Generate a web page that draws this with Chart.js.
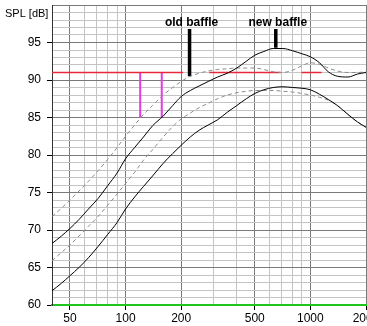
<!DOCTYPE html>
<html lang="en">
<head>
  <meta charset="UTF-8">
  <title>SPL - old vs new baffle</title>
  <script src="https://cdn.jsdelivr.net/npm/chart.js"></script>
  <style>
    body {
      margin: 0;
      background-color: #ffffff;
    }
    .chartContainer {
      width: 367px;
      height: 326px;
    }
  </style>
</head>
<body>
  <div class="chartContainer">
    <canvas id="splChart"></canvas>
  </div>

  <script>
    // Frequencies (Hz) the responses are sampled at
    const freqs = [40, 45, 50, 56, 63, 71, 80, 90, 100, 112, 125, 140, 160, 180, 200, 224, 250, 280, 315, 355,
                   400, 450, 500, 560, 630, 710, 800, 900, 1000, 1120, 1250, 1400, 1600, 1800, 2000];

    // SPL (dB) curves
    const upperSolid = [68.2, 69.2, 70.2, 71.4, 72.8, 74.2, 75.9, 77.6, 79.5, 81.0, 82.4, 83.9, 85.2, 86.6, 87.8, 88.6, 89.2, 89.8, 90.4, 90.9,
                        91.6, 92.5, 93.3, 93.8, 94.2, 94.2, 93.9, 93.5, 93.1, 92.3, 91.1, 90.5, 90.4, 90.8, 91.0];
    const upperDashed = [71.8, 72.9, 74.0, 75.2, 76.5, 77.9, 79.4, 81.0, 82.5, 84.0, 85.4, 86.6, 88.0, 89.0, 89.8, 90.5, 90.9, 91.2, 91.4, 91.5,
                         91.6, 91.6, 91.6, 91.4, 91.1, 91.0, 91.3, 91.9, 92.3, 92.1, 91.6, 91.2, 91.0, 91.0, 91.1];
    const lowerDashed = [65.9, 67.0, 68.0, 69.2, 70.5, 71.8, 73.3, 74.8, 76.2, 77.7, 79.3, 80.7, 82.4, 83.8, 84.8, 85.6, 86.3, 86.9, 87.5, 88.0,
                         88.3, 88.5, 88.6, 88.6, 88.6, 88.5, 88.4, 88.2, 88.0, 87.7, 87.3, 86.6, 85.4, 84.4, 83.7];
    const lowerSolid = [61.9, 62.9, 63.9, 65.0, 66.3, 67.8, 69.4, 71.0, 72.8, 74.4, 75.8, 77.2, 78.9, 80.2, 81.3, 82.4, 83.3, 84.0, 84.7, 85.7,
                        86.6, 87.5, 88.2, 88.7, 89.0, 89.1, 89.0, 88.9, 88.7, 88.1, 87.4, 86.6, 85.4, 84.4, 83.7];

    // Reference level and the frequency ranges it is drawn over
    const refLevel = 91;
    const refRanges = [[40, 205], [284, 690], [895, 1150]];

    // Frequency shift markers (Hz), drawn from refLevel down to shiftLevel
    const shiftFreqs = [120, 157];
    const shiftLevel = 85;

    // Baffle callouts
    const baffleLabels = ['old baffle', 'new baffle'];
    const baffleFreqs = [222, 650];
    const baffleTop = 96.8;
    const baffleBottoms = [90.5, 94.3];

    // Axis ticks
    const gridFreqs = [40, 50, 60, 70, 80, 90, 100, 200, 300, 400, 500, 600, 700, 800, 900, 1000, 2000];
    const labelFreqs = [50, 100, 200, 500, 1000, 2000];
    const yMin = 60, yMax = 100;

    const pts = vals => freqs.map((f, i) => ({ x: f, y: vals[i] }));

    const refData = [];
    refRanges.forEach(([a, b], i) => {
      if (i > 0) refData.push({ x: (refRanges[i - 1][1] + a) / 2, y: null });
      refData.push({ x: a, y: refLevel }, { x: b, y: refLevel });
    });

    const line = (data, color, width, extra) => Object.assign({
      data, borderColor: color, borderWidth: width, pointRadius: 0, fill: false, tension: 0
    }, extra || {});

    const datasets = [
      line(pts(upperSolid), '#000000', 1, { cubicInterpolationMode: 'monotone' }),
      line(pts(lowerSolid), '#000000', 1, { cubicInterpolationMode: 'monotone' }),
      line(pts(upperDashed), '#8c8c8c', 1, { borderDash: [4, 3], cubicInterpolationMode: 'monotone' }),
      line(pts(lowerDashed), '#8c8c8c', 1, { borderDash: [4, 3], cubicInterpolationMode: 'monotone' }),
      line(refData, '#e8283c', 1.5, { spanGaps: false })
    ];
    shiftFreqs.forEach(f => {
      datasets.push(line([{ x: f, y: refLevel }, { x: f, y: shiftLevel }], '#e23ce2', 2));
    });
    baffleFreqs.forEach((f, i) => {
      datasets.push(line([{ x: f, y: baffleTop }, { x: f, y: baffleBottoms[i] }], '#000000', 3.5));
    });

    // Text labels: baffle names above the bars and the y axis caption
    const notesPlugin = {
      id: 'notes',
      afterDraw(chart) {
        const { ctx, scales: { x, y } } = chart;
        ctx.save();
        ctx.fillStyle = '#000';
        ctx.font = 'bold 12px "Liberation Sans", Arial, sans-serif';
        ctx.textAlign = 'center';
        ctx.textBaseline = 'alphabetic';
        baffleFreqs.forEach((f, i) => {
          ctx.fillText(baffleLabels[i], x.getPixelForValue(f) + 2, y.getPixelForValue(baffleTop) - 3);
        });
        ctx.font = '11px "Liberation Sans", Arial, sans-serif';
        ctx.textAlign = 'left';
        ctx.fillText('SPL [dB]', 5, 17);
        ctx.restore();
      }
    };

    const ctx = document.getElementById('splChart').getContext('2d');
    new Chart(ctx, {
      type: 'line',
      data: { datasets },
      plugins: [notesPlugin],
      options: {
        responsive: true,
        maintainAspectRatio: false,
        animation: false,
        layout: { padding: { top: 5, right: 1, left: 0, bottom: 0 } },
        plugins: { legend: { display: false }, tooltip: { enabled: false } },
        scales: {
          x: {
            type: 'logarithmic',
            min: 40,
            max: 2000,
            afterBuildTicks: s => { s.ticks = gridFreqs.map(v => ({ value: v })); },
            afterFit: s => { s.height = 21; s.paddingLeft = 0; s.paddingRight = 0; },
            ticks: {
              autoSkip: false,
              maxRotation: 0,
              padding: 1,
              color: '#000',
              font: { family: '"Liberation Sans", Arial, sans-serif', size: 12 },
              callback: v => labelFreqs.includes(v) ? String(v) : ''
            },
            grid: {
              color: c => labelFreqs.includes(c.tick.value) ? '#7a7a7a' : '#c4c4c4',
              tickColor: c => labelFreqs.includes(c.tick.value) ? '#000' : 'rgba(0,0,0,0)',
              tickLength: 5
            },
            border: { color: '#1fc41f', width: 2 }
          },
          y: {
            min: yMin,
            max: yMax,
            afterBuildTicks: s => {
              s.ticks = [];
              for (let v = yMin; v <= yMax; v++) s.ticks.push({ value: v });
            },
            afterFit: s => { s.width = 52; s.paddingTop = 0; s.paddingBottom = 0; },
            ticks: {
              autoSkip: false,
              padding: 6,
              color: '#000',
              font: { family: '"Liberation Sans", Arial, sans-serif', size: 12 },
              callback: v => (v % 5 === 0 && v < yMax) ? String(v) : ''
            },
            grid: {
              color: c => c.tick.value === yMin ? '#1fc41f' : (c.tick.value % 5 === 0 ? '#7a7a7a' : '#c4c4c4'),
              tickColor: c => (c.tick.value % 5 === 0 && c.tick.value < yMax) ? '#000' : 'rgba(0,0,0,0)',
              tickLength: 5
            },
            border: { color: '#333', width: 1 }
          }
        }
      }
    });
  </script>
</body>
</html>
